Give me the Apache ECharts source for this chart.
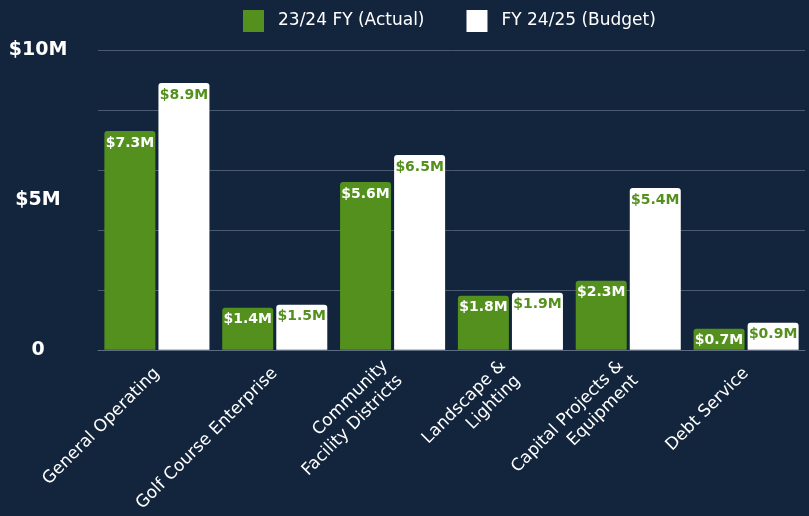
<!DOCTYPE html>
<html>
<head>
<meta charset="utf-8">
<script src="https://cdn.jsdelivr.net/npm/echarts@6/dist/echarts.min.js"></script>
<style>
  html, body { margin: 0; padding: 0; background: #13253d; }
  #main { width: 809px; height: 516px; }
</style>
</head>
<body>
<div id="main"></div>
<script>
// fund categories and values (in $M)
const categories = [
  'General Operating',
  'Golf Course Enterprise',
  'Community\nFacility Districts',
  'Landscape &\nLighting',
  'Capital Projects &\nEquipment',
  'Debt Service'
];
const actual2324 = [7.3, 1.4, 5.6, 1.8, 2.3, 0.7];
const budget2425 = [8.9, 1.5, 6.5, 1.9, 5.4, 0.9];
const seriesNames = ['23/24 FY (Actual)', 'FY 24/25 (Budget)'];

const green = '#53901d';
const font = 'DejaVu Sans';

const myChart = echarts.init(document.getElementById('main'));

const labelFmt = p => '$' + p.value.toFixed(1) + 'M';

const option = {
  backgroundColor: '#13253d',
  textStyle: { fontFamily: font },
  legend: {
    top: 5,
    left: 238,
    itemWidth: 21,
    itemHeight: 22,
    itemGap: 42,
    icon: 'rect',
    textStyle: { color: '#ffffff', fontSize: 17, fontFamily: font, padding: [0, 0, 0, 9] },
    data: seriesNames
  },
  grid: { left: 98, right: 4, top: 50, bottom: 166 },
  xAxis: {
    type: 'category',
    data: categories,
    axisLine: { show: true, lineStyle: { color: '#5d6c82', width: 1 } },
    axisTick: { show: false },
    axisLabel: {
      rotate: 45,
      interval: 0,
      margin: 21,
      color: '#ffffff',
      fontSize: 17,
      fontFamily: font,
      lineHeight: 21
    }
  },
  yAxis: [
    {
      type: 'value',
      min: 0, max: 10, interval: 2,
      axisLine: { show: false },
      axisTick: { show: false },
      axisLabel: { show: false },
      splitLine: { lineStyle: { color: '#4b5a70', width: 1 } }
    },
    {
      type: 'value',
      position: 'left',
      min: 0, max: 10, interval: 5,
      axisLine: { show: false },
      axisTick: { show: false },
      splitLine: { show: false },
      axisLabel: {
        color: '#ffffff',
        fontSize: 19,
        fontWeight: 'bold',
        fontFamily: font,
        align: 'center',
        margin: 60,
        formatter: v => v === 0 ? '0' : '$' + v + 'M'
      }
    }
  ],
  series: [
    {
      name: seriesNames[0],
      type: 'bar',
      yAxisIndex: 0,
      data: actual2324,
      barWidth: 51,
      barGap: '6%',
      itemStyle: { color: green, borderRadius: [3, 3, 0, 0] },
      label: {
        show: true, position: 'insideTop', distance: 5,
        color: '#ffffff', fontSize: 14, fontWeight: 'bold', fontFamily: font,
        formatter: labelFmt
      }
    },
    {
      name: seriesNames[1],
      type: 'bar',
      yAxisIndex: 0,
      data: budget2425,
      barWidth: 51,
      barGap: '6%',
      itemStyle: { color: '#ffffff', borderRadius: [3, 3, 0, 0] },
      label: {
        show: true, position: 'insideTop', distance: 5,
        color: green, fontSize: 14, fontWeight: 'bold', fontFamily: font,
        formatter: labelFmt
      }
    }
  ]
};

myChart.setOption(option);
</script>
</body>
</html>
